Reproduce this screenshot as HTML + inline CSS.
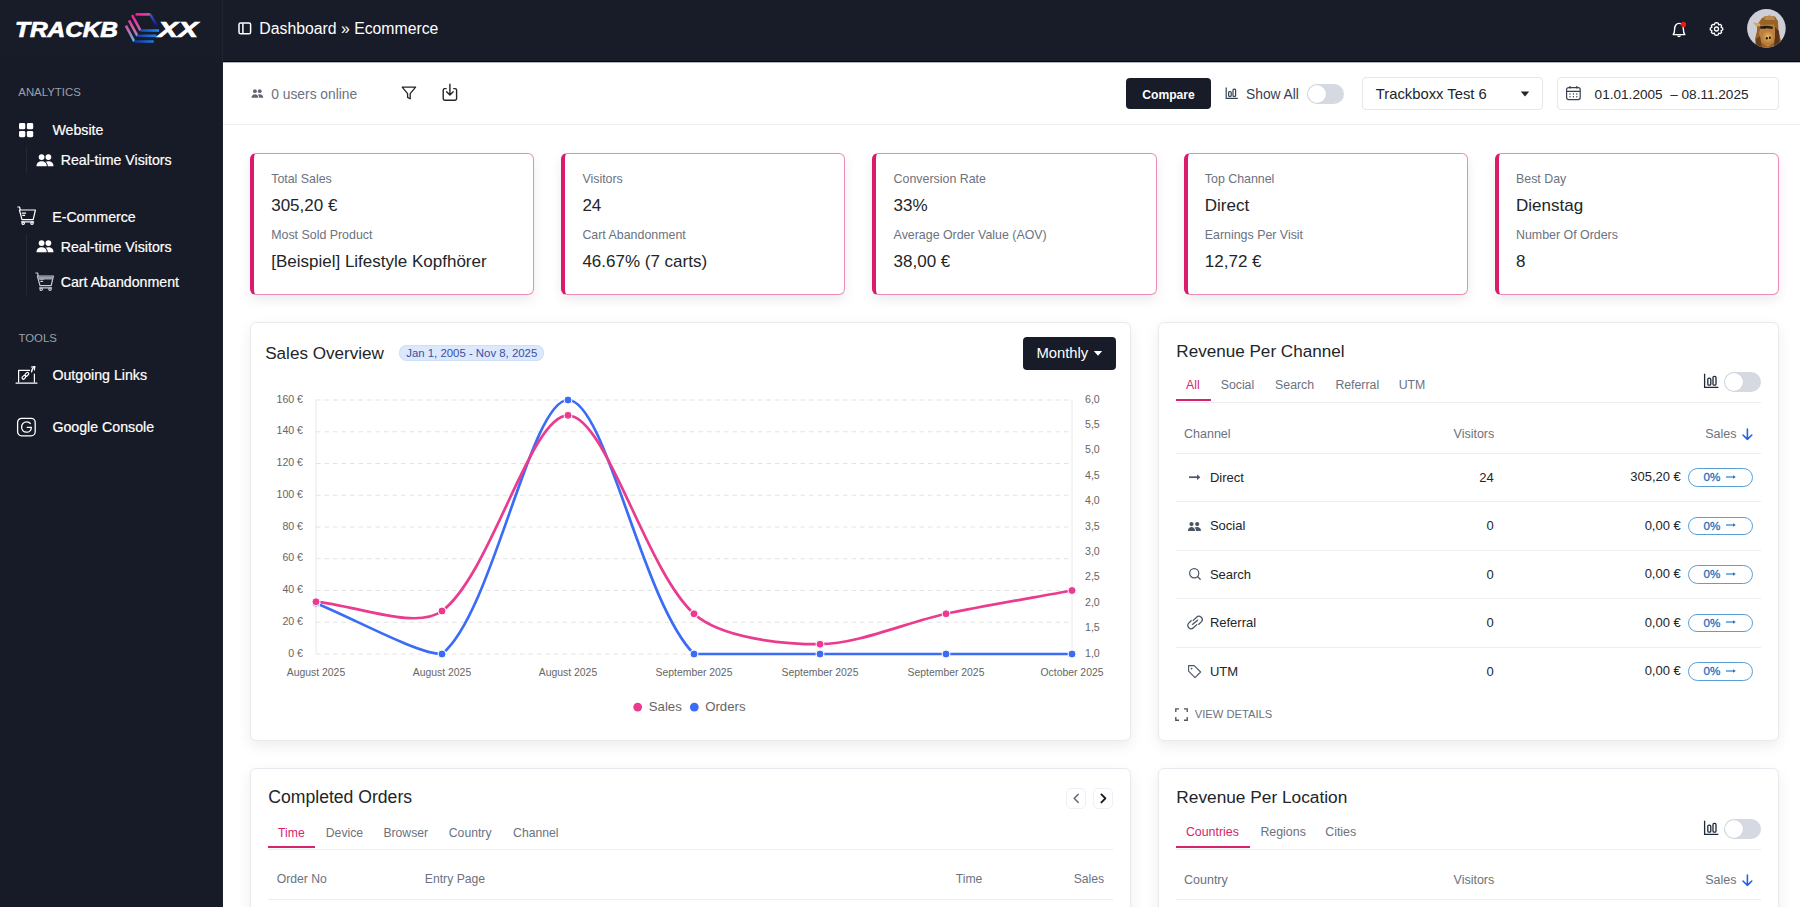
<!DOCTYPE html>
<html><head><meta charset="utf-8">
<style>
*{box-sizing:border-box;margin:0;padding:0}
svg text{font-family:"Liberation Sans",sans-serif}
html,body{width:1800px;height:907px;overflow:hidden;background:#fff;font-family:"Liberation Sans",sans-serif}
.t{position:absolute;white-space:nowrap;line-height:1}
.a{position:absolute}
#hdr{position:absolute;left:0;top:0;width:1800px;height:62px;background:#181c29}
#side{position:absolute;left:0;top:62px;width:223px;height:845px;background:#171b27}
.sw{color:#fff;font-size:14.2px;-webkit-text-stroke:.2px #fff}
.sec{color:#9ba1ad;font-size:11.4px}
.guide{position:absolute;left:26px;width:1px;background:#232838}
.kpi{position:absolute;top:153px;height:142px;width:284.6px;background:#fff;border:1px solid #eb8cb8;border-left:4px solid #da1b6b;border-radius:6px;box-shadow:0 5px 12px rgba(0,0,0,.08)}
.kl{color:#6b7280;font-size:12.4px}
.kv{color:#212529;font-size:17px}
.card{position:absolute;background:#fff;border:1px solid #e8eaef;border-radius:6px;box-shadow:0 5px 14px rgba(0,0,0,.075)}
.ct{color:#212529;font-size:17.1px}
.tab{color:#6b7280;font-size:12.3px}
.tab.on{color:#d6246e}
.th{color:#6b7280;font-size:12.5px}
.td{color:#212529;font-size:13px}
.hl{position:absolute;height:1px;background:#eceef2}
.badge{position:absolute;left:1688px;width:65px;height:18.5px;border:1px solid #5a9fd8;border-radius:10px;color:#1a72c2;font-size:11.6px;text-align:center;line-height:16.5px;-webkit-text-stroke:.3px #1a72c2}
.tog{position:absolute;width:37px;height:20px;border-radius:10px;background:#d5d9e2}
.tog::after{content:"";position:absolute;left:1px;top:1px;width:18px;height:18px;border-radius:50%;background:#fff;box-shadow:0 0 0 .5px #c9ced8}
</style></head><body>

<!-- HEADER -->
<div id="hdr"></div>
<div class="a" style="left:223px;top:61px;width:1577px;height:1px;background:#030713"></div>
<div class="a" style="left:223px;top:62px;width:1577px;height:1px;background:rgba(40,44,60,.35)"></div>
<div class="a" style="left:0;top:61.5px;width:222px;height:1px;background:#1e2333"></div>
<div class="a" style="left:222px;top:0;width:1px;height:907px;background:#1e2332"></div>
<svg class="a" style="left:0;top:0" width="222" height="60" viewBox="0 0 222 60">
 <defs>
  <linearGradient id="gp" gradientUnits="userSpaceOnUse" x1="0" y1="15" x2="0" y2="41"><stop offset="0" stop-color="#ff1493"/><stop offset=".6" stop-color="#c070b0"/><stop offset="1" stop-color="#40c0f0"/></linearGradient>
  <linearGradient id="gb" gradientUnits="userSpaceOnUse" x1="134" y1="0" x2="159" y2="0"><stop offset="0" stop-color="#1a2a90"/><stop offset="1" stop-color="#1a90ff"/></linearGradient>
  <linearGradient id="gt" gradientUnits="userSpaceOnUse" x1="135" y1="0" x2="151" y2="0"><stop offset="0" stop-color="#ff1493"/><stop offset="1" stop-color="#d05a9a"/></linearGradient>
  <linearGradient id="gr" gradientUnits="userSpaceOnUse" x1="0" y1="14" x2="0" y2="26"><stop offset="0" stop-color="#3560b0"/><stop offset="1" stop-color="#10109a"/></linearGradient>
 </defs>
 <text x="15" y="37.2" font-family="Liberation Sans" font-weight="bold" font-style="italic" font-size="21.5" fill="#fff" stroke="#fff" stroke-width="0.7" textLength="103" lengthAdjust="spacingAndGlyphs">TRACKB</text>
 <text x="158" y="37.2" font-family="Liberation Sans" font-weight="bold" font-style="italic" font-size="21.5" fill="#fff" stroke="#fff" stroke-width="0.7" textLength="40" lengthAdjust="spacingAndGlyphs">XX</text>
 <g stroke-width="2.6" stroke-linecap="butt" fill="none">
  <path d="M135.6 14.4 H150.2" stroke="url(#gt)"/>
  <path d="M150.2 14.4 L157.2 26.1" stroke="url(#gr)"/>
  <path d="M132.1 15.1 L140.5 30.5" stroke="url(#gp)"/>
  <path d="M140.5 30.5 H159" stroke="url(#gb)"/>
  <path d="M129 20.3 L137.4 35.8" stroke="url(#gp)"/>
  <path d="M137.4 35.8 H156.4" stroke="url(#gb)"/>
  <path d="M125.9 25.6 L134.3 41.5" stroke="url(#gp)"/>
  <path d="M134.3 41.5 H153.7" stroke="url(#gb)"/>
 </g>
</svg>
<svg class="a" style="left:237.5px;top:21.5px" width="14" height="13" viewBox="0 0 14 13"><rect x="1" y="1" width="11.6" height="10.8" rx="1.6" fill="none" stroke="#fff" stroke-width="1.5"/><path d="M4.9 1.3V11.6" stroke="#fff" stroke-width="1.5"/></svg>
<div class="t" style="left:259.3px;top:20.8px;color:#fff;font-size:15.8px">Dashboard » Ecommerce</div>
<svg class="a" style="left:1670px;top:20px" width="20" height="18" viewBox="0 0 20 18"><path d="M3.2 14.6 C4.6 13.2 4.6 11.6 4.6 9.2 C4.6 5.6 6.4 3.4 9 3.4 C11.6 3.4 13.4 5.6 13.4 9.2 C13.4 11.6 13.4 13.2 14.8 14.6 Z" fill="none" stroke="#fff" stroke-width="1.4" stroke-linejoin="round"/><path d="M7.6 15.6 A1.5 1.5 0 0 0 10.4 15.6" fill="none" stroke="#fff" stroke-width="1.3"/><circle cx="13.4" cy="4.4" r="2.7" fill="#e0201e"/></svg>
<svg class="a" style="left:1708px;top:21px" width="17" height="16" viewBox="0 0 17 16"><path d="M8.5 1.6 L10.2 2.2 L10.6 3.9 L12.3 3.4 L13.6 4.6 L13.1 6.3 L14.7 7 L14.7 9 L13.1 9.7 L13.6 11.4 L12.3 12.6 L10.6 12.1 L10.2 13.8 L8.5 14.4 L6.8 13.8 L6.4 12.1 L4.7 12.6 L3.4 11.4 L3.9 9.7 L2.3 9 L2.3 7 L3.9 6.3 L3.4 4.6 L4.7 3.4 L6.4 3.9 L6.8 2.2 Z" fill="none" stroke="#fff" stroke-width="1.3" stroke-linejoin="round"/><circle cx="8.5" cy="8" r="2" fill="none" stroke="#fff" stroke-width="1.3"/></svg>
<svg class="a" style="left:1747px;top:8.5px" width="39" height="39" viewBox="0 0 39 39">
 <defs><clipPath id="av"><circle cx="19.4" cy="19.4" r="19.3"/></clipPath>
 <filter id="bl" x="-20%" y="-20%" width="140%" height="140%"><feGaussianBlur stdDeviation="0.7"/></filter>
 <radialGradient id="snout" cx=".5" cy=".45" r=".55"><stop offset="0" stop-color="#e8b868"/><stop offset="1" stop-color="#b57a38"/></radialGradient></defs>
 <g clip-path="url(#av)">
  <rect width="39" height="39" fill="#cfced6"/>
  <g filter="url(#bl)">
   <path d="M10 16 L15 9 L22 6.5 L28 7.5 L31 12 L31.5 22 L34 32 L35 39 L9 39 L8 30 L10 22 Z" fill="#9a6428"/>
   <path d="M6 13.2 L13 14.6 L13.5 17 L9 17.5 Z" fill="#d9a85a"/>
   <path d="M14 16 L27 15.5 L29 22 L27 33 L21 38 L14 33 L12 24 Z" fill="#b98040"/>
   <path d="M13 17.5 Q19 15.8 26 17.8 L25.5 20 Q19 18.6 13.5 20 Z" fill="#2c1c10"/>
   <ellipse cx="21" cy="28.5" rx="6" ry="6.2" fill="url(#snout)"/>
   <path d="M28 18 L32 22 L33 36 L27 38 L28 28 Z" fill="#5a3414"/>
   <path d="M9 30 L13 27 L15 39 L9 39 Z" fill="#6a4018"/>
   <path d="M17 7 L27 7 L28 11 L18 11 Z" fill="#b88a50"/>
  </g>
  <ellipse cx="19.8" cy="29.3" rx="1" ry="1.2" fill="#1e1208"/><ellipse cx="22.9" cy="28.8" rx="1" ry="1.2" fill="#1e1208"/>
  <ellipse cx="17.5" cy="18.8" rx="1.4" ry="0.9" fill="#101820"/><ellipse cx="22.6" cy="18.6" rx="1.4" ry="0.9" fill="#1a2840"/>
 </g>
</svg>

<!-- SIDEBAR -->
<div id="side"></div>
<div class="a" style="left:222px;top:0;width:1px;height:907px;background:#1e2332"></div>
<div class="t sec" style="left:18.3px;top:87.3px">ANALYTICS</div>
<svg class="a" style="left:18px;top:121.5px" width="17" height="16" viewBox="0 0 17 16"><g fill="#fff"><rect x="1" y="1" width="6.3" height="6.3" rx="1.4"/><rect x="8.9" y="1" width="6.3" height="6.3" rx="1.4"/><rect x="1" y="8.9" width="6.3" height="6.3" rx="1.4"/><rect x="8.9" y="8.9" width="6.3" height="6.3" rx="1.4"/></g></svg>
<div class="t sw" style="left:52.4px;top:122.5px">Website</div>
<div class="guide" style="top:147px;height:26px"></div>
<svg class="a" style="left:35.5px;top:154px" width="18" height="13" viewBox="0 0 18 13"><g fill="#fff"><circle cx="5.6" cy="3.1" r="2.9"/><circle cx="12.4" cy="3.1" r="2.9"/><path d="M0.5 12.3 C0.5 8.6 2.8 7.2 5.6 7.2 C8.4 7.2 10.7 8.6 10.7 12.3 Z"/><path d="M9.5 7.8 C10.3 7.4 11.3 7.2 12.4 7.2 C15.2 7.2 17.5 8.6 17.5 12.3 H11.8 C11.8 10.3 11 8.8 9.5 7.8 Z"/></g></svg>
<div class="t sw" style="left:60.7px;top:152.9px">Real-time Visitors</div>

<svg class="a" style="left:16px;top:205px" width="22" height="21" viewBox="0 0 22 21"><g fill="none" stroke="#fff" stroke-width="1.2" stroke-linejoin="round" stroke-linecap="round"><path d="M1.8 2 H3.6 L4.2 4.6"/><path d="M3.4 5 H19.4 L17.2 14.6 H6 Z"/><path d="M6.2 8.2 H9.6 M6.8 10.4 H8.6"/><circle cx="7.2" cy="18.2" r="1.2"/><circle cx="16" cy="18.2" r="1.2"/><path d="M5.6 16.9 H17.6"/></g></svg>
<div class="t sw" style="left:52.2px;top:209.9px">E-Commerce</div>
<div class="guide" style="top:234px;height:61px"></div>
<svg class="a" style="left:35.5px;top:240px" width="18" height="13" viewBox="0 0 18 13"><g fill="#fff"><circle cx="5.6" cy="3.1" r="2.9"/><circle cx="12.4" cy="3.1" r="2.9"/><path d="M0.5 12.3 C0.5 8.6 2.8 7.2 5.6 7.2 C8.4 7.2 10.7 8.6 10.7 12.3 Z"/><path d="M9.5 7.8 C10.3 7.4 11.3 7.2 12.4 7.2 C15.2 7.2 17.5 8.6 17.5 12.3 H11.8 C11.8 10.3 11 8.8 9.5 7.8 Z"/></g></svg>
<div class="t sw" style="left:60.7px;top:239.7px">Real-time Visitors</div>
<svg class="a" style="left:34px;top:271px" width="22" height="21" viewBox="0 0 22 21"><g fill="none" stroke="#c8cbd2" stroke-width="1.2" stroke-linejoin="round" stroke-linecap="round"><path d="M1.8 2 H3.6 L4.2 4.6"/><path d="M3.4 5 H19.4 L17.2 14.6 H6 Z"/><path d="M6.2 8.2 H9.6 M6.8 10.4 H8.6"/><circle cx="7.2" cy="18.2" r="1.2"/><circle cx="16" cy="18.2" r="1.2"/><path d="M5.6 16.9 H17.6"/></g><path d="M4 5.5 H19 L18.3 8.6 H4.8 Z" fill="#9aa0aa"/></svg>
<div class="t sw" style="left:60.7px;top:274.7px">Cart Abandonment</div>

<div class="t sec" style="left:18.5px;top:332.6px">TOOLS</div>
<svg class="a" style="left:15px;top:365px" width="24" height="20" viewBox="0 0 24 20"><g fill="none" stroke="#fff" stroke-width="1.2" stroke-linecap="round" stroke-linejoin="round"><path d="M3.6 17 V5.4 H14.5"/><path d="M19.4 9 V17"/><path d="M1 18.1 H22"/><path d="M16.4 2 L19.8 1.6 L19.4 5"/><path d="M19.8 1.6 C17.8 3 16.5 5 16.6 7"/><rect x="6.8" y="11" width="4.2" height="2.6" rx="1.3" transform="rotate(-45 8.9 12.3)"/><rect x="9.8" y="8" width="4.2" height="2.6" rx="1.3" transform="rotate(-45 11.9 9.3)"/></g></svg>
<div class="t sw" style="left:52.4px;top:368.2px">Outgoing Links</div>
<svg class="a" style="left:16px;top:417px" width="21" height="20" viewBox="0 0 21 20"><rect x="1.6" y="1.4" width="17.6" height="17.4" rx="4" fill="none" stroke="#fff" stroke-width="1.3"/><path d="M14.6 6.8 C13.8 5.6 12.4 4.9 10.6 4.9 C7.7 4.9 5.6 7.2 5.6 10.1 C5.6 13 7.7 15.2 10.6 15.2 C13.4 15.2 15.3 13.2 15.3 10.4 H10.7" fill="none" stroke="#fff" stroke-width="1.3"/></svg>
<div class="t sw" style="left:52.4px;top:419.6px">Google Console</div>

<!-- TOPBAR -->
<div class="a" style="left:223px;top:124px;width:1577px;height:1px;background:#eceef3"></div>
<svg class="a" style="left:250.5px;top:88.5px" width="13" height="10" viewBox="0 0 15 12"><g fill="#5f6673"><circle cx="4.4" cy="2.6" r="2.3"/><circle cx="10.2" cy="2.6" r="2.3"/><path d="M0.3 10.6 C0.3 7.6 2.2 6.2 4.4 6.2 C6.6 6.2 8.6 7.6 8.6 10.6 Z"/><path d="M7.6 6.8 C8.4 6.4 9.3 6.2 10.2 6.2 C12.5 6.2 14.4 7.6 14.4 10.6 H9.6 C9.6 8.9 9 7.6 7.6 6.8 Z"/></g></svg>
<div class="t" style="left:271.3px;top:87.6px;color:#6b7280;font-size:13.8px">0 users online</div>
<svg class="a" style="left:400px;top:85px" width="18" height="16" viewBox="0 0 18 16"><path d="M2.2 2.2 H15.6 L10.2 8.6 V13.8 L7.6 12.4 V8.6 Z" fill="none" stroke="#212529" stroke-width="1.3" stroke-linejoin="round"/></svg>
<svg class="a" style="left:441px;top:83px" width="18" height="19" viewBox="0 0 18 19"><path d="M5.6 5.6 H3.8 A1.6 1.6 0 0 0 2.2 7.2 V15.6 A1.6 1.6 0 0 0 3.8 17.2 H14 A1.6 1.6 0 0 0 15.6 15.6 V7.2 A1.6 1.6 0 0 0 14 5.6 H12.2" fill="none" stroke="#212529" stroke-width="1.4"/><path d="M8.9 1.2 V12 M5.6 8.8 L8.9 12 L12.2 8.8" fill="none" stroke="#212529" stroke-width="1.4" stroke-linecap="round" stroke-linejoin="round"/></svg>

<div class="a" style="left:1126px;top:78.3px;width:85px;height:30.5px;background:#181c28;border-radius:4px"></div>
<div class="t" style="left:1126px;top:89.2px;width:85px;text-align:center;color:#fff;font-size:12.1px;font-weight:bold">Compare</div>
<svg class="a" style="left:1224px;top:86px" width="16" height="14" viewBox="0 0 16 14"><g fill="none" stroke="#374151" stroke-width="1.2"><path d="M2.2 1.4 V12.4 H13.8"/><rect x="4.6" y="5.6" width="2.6" height="4.8" rx="1"/><rect x="9" y="3.2" width="2.6" height="7.2" rx="1"/></g></svg>
<div class="t" style="left:1246px;top:87.9px;color:#374151;font-size:13.8px">Show All</div>
<div class="tog" style="left:1307px;top:84px"></div>

<div class="a" style="left:1361.5px;top:76.8px;width:181px;height:33.5px;border:1px solid #e4e6eb;border-radius:4px"></div>
<div class="t" style="left:1375.8px;top:87px;color:#212529;font-size:14.8px">Trackboxx Test 6</div>
<svg class="a" style="left:1520px;top:90px" width="10" height="8" viewBox="0 0 10 8"><path d="M0.8 1.5 H9.2 L5 6.4 Z" fill="#212529"/></svg>
<div class="a" style="left:1556.5px;top:76.8px;width:222px;height:33.5px;border:1px solid #e4e6eb;border-radius:4px"></div>
<svg class="a" style="left:1565px;top:84.5px" width="17" height="16" viewBox="0 0 17 16"><g fill="none" stroke="#374151" stroke-width="1.2"><rect x="1.6" y="2.6" width="13.6" height="12" rx="2"/><path d="M1.6 6.4 H15.2 M5 1 V3.6 M11.8 1 V3.6"/></g><g fill="#374151"><circle cx="5" cy="9" r=".7"/><circle cx="8.4" cy="9" r=".7"/><circle cx="11.8" cy="9" r=".7"/><circle cx="5" cy="11.8" r=".7"/><circle cx="8.4" cy="11.8" r=".7"/><circle cx="11.8" cy="11.8" r=".7"/></g></svg>
<div class="t" style="left:1594.6px;top:87.9px;color:#212529;font-size:13.6px">01.01.2005 &nbsp;– 08.11.2025</div>


<!-- KPI -->
<div class="kpi" style="left:250.0px;width:284.2px"></div>
<div class="t kl" style="left:271.2px;top:173.2px">Total Sales</div>
<div class="t kv" style="left:271.2px;top:196.5px">305,20 €</div>
<div class="t kl" style="left:271.2px;top:228.9px">Most Sold Product</div>
<div class="t kv" style="left:271.2px;top:253px">[Beispiel] Lifestyle Kopfhörer</div>
<div class="kpi" style="left:561.2px;width:284.2px"></div>
<div class="t kl" style="left:582.4px;top:173.2px">Visitors</div>
<div class="t kv" style="left:582.4px;top:196.5px">24</div>
<div class="t kl" style="left:582.4px;top:228.9px">Cart Abandonment</div>
<div class="t kv" style="left:582.4px;top:253px">46.67% (7 carts)</div>
<div class="kpi" style="left:872.4px;width:284.2px"></div>
<div class="t kl" style="left:893.6px;top:173.2px">Conversion Rate</div>
<div class="t kv" style="left:893.6px;top:196.5px">33%</div>
<div class="t kl" style="left:893.6px;top:228.9px">Average Order Value (AOV)</div>
<div class="t kv" style="left:893.6px;top:253px">38,00 €</div>
<div class="kpi" style="left:1183.6px;width:284.2px"></div>
<div class="t kl" style="left:1204.8px;top:173.2px">Top Channel</div>
<div class="t kv" style="left:1204.8px;top:196.5px">Direct</div>
<div class="t kl" style="left:1204.8px;top:228.9px">Earnings Per Visit</div>
<div class="t kv" style="left:1204.8px;top:253px">12,72 €</div>
<div class="kpi" style="left:1494.8px;width:284.2px"></div>
<div class="t kl" style="left:1516.0px;top:173.2px">Best Day</div>
<div class="t kv" style="left:1516.0px;top:196.5px">Dienstag</div>
<div class="t kl" style="left:1516.0px;top:228.9px">Number Of Orders</div>
<div class="t kv" style="left:1516.0px;top:253px">8</div>


<!-- SALES OVERVIEW -->
<div class="card" style="left:250px;top:322px;width:880.5px;height:418.5px"></div>
<div class="t ct" style="left:265.2px;top:345.2px">Sales Overview</div>
<div class="a" style="left:398.8px;top:344.7px;width:145px;height:16.5px;border-radius:9px;background:#dce8fb;box-shadow:inset 0 0 0 1px #cfdff8"></div>
<div class="t" style="left:406.2px;top:347.9px;color:#3a4fa6;font-size:11.4px">Jan 1, 2005 - Nov 8, 2025</div>
<div class="a" style="left:1023px;top:336.7px;width:93px;height:33px;background:#181c28;border-radius:4px"></div>
<div class="t" style="left:1036.4px;top:345.6px;color:#fff;font-size:14.8px">Monthly</div>
<svg class="a" style="left:1093px;top:350px" width="10" height="7" viewBox="0 0 10 7"><path d="M0.8 1 H9.2 L5 5.8 Z" fill="#fff"/></svg>
<svg class="a" style="left:250px;top:322px" width="880" height="418" viewBox="250 322 880 418">
<path d="M316 654.00 H1072" stroke="#e3e3e3" stroke-width="1" stroke-dasharray="4.5 4"/>
<path d="M316 622.25 H1072" stroke="#e3e3e3" stroke-width="1" stroke-dasharray="4.5 4"/>
<path d="M316 590.50 H1072" stroke="#e3e3e3" stroke-width="1" stroke-dasharray="4.5 4"/>
<path d="M316 558.75 H1072" stroke="#e3e3e3" stroke-width="1" stroke-dasharray="4.5 4"/>
<path d="M316 527.00 H1072" stroke="#e3e3e3" stroke-width="1" stroke-dasharray="4.5 4"/>
<path d="M316 495.25 H1072" stroke="#e3e3e3" stroke-width="1" stroke-dasharray="4.5 4"/>
<path d="M316 463.50 H1072" stroke="#e3e3e3" stroke-width="1" stroke-dasharray="4.5 4"/>
<path d="M316 431.75 H1072" stroke="#e3e3e3" stroke-width="1" stroke-dasharray="4.5 4"/>
<path d="M316 400.00 H1072" stroke="#e3e3e3" stroke-width="1" stroke-dasharray="4.5 4"/>
<path d="M316 400 V654 M1072 400 V654" stroke="#e8e8e8" stroke-width="1"/>
<text x="303" y="656.50" text-anchor="end" font-size="10.6" fill="#666">0 €</text>
<text x="303" y="624.75" text-anchor="end" font-size="10.6" fill="#666">20 €</text>
<text x="303" y="593.00" text-anchor="end" font-size="10.6" fill="#666">40 €</text>
<text x="303" y="561.25" text-anchor="end" font-size="10.6" fill="#666">60 €</text>
<text x="303" y="529.50" text-anchor="end" font-size="10.6" fill="#666">80 €</text>
<text x="303" y="497.75" text-anchor="end" font-size="10.6" fill="#666">100 €</text>
<text x="303" y="466.00" text-anchor="end" font-size="10.6" fill="#666">120 €</text>
<text x="303" y="434.25" text-anchor="end" font-size="10.6" fill="#666">140 €</text>
<text x="303" y="402.50" text-anchor="end" font-size="10.6" fill="#666">160 €</text>
<text x="1085" y="656.50" font-size="10.6" fill="#666">1,0</text>
<text x="1085" y="631.10" font-size="10.6" fill="#666">1,5</text>
<text x="1085" y="605.70" font-size="10.6" fill="#666">2,0</text>
<text x="1085" y="580.30" font-size="10.6" fill="#666">2,5</text>
<text x="1085" y="554.90" font-size="10.6" fill="#666">3,0</text>
<text x="1085" y="529.50" font-size="10.6" fill="#666">3,5</text>
<text x="1085" y="504.10" font-size="10.6" fill="#666">4,0</text>
<text x="1085" y="478.70" font-size="10.6" fill="#666">4,5</text>
<text x="1085" y="453.30" font-size="10.6" fill="#666">5,0</text>
<text x="1085" y="427.90" font-size="10.6" fill="#666">5,5</text>
<text x="1085" y="402.50" font-size="10.6" fill="#666">6,0</text>
<text x="316" y="675.8" text-anchor="middle" font-size="10.4" fill="#666">August 2025</text>
<text x="442" y="675.8" text-anchor="middle" font-size="10.4" fill="#666">August 2025</text>
<text x="568" y="675.8" text-anchor="middle" font-size="10.4" fill="#666">August 2025</text>
<text x="694" y="675.8" text-anchor="middle" font-size="10.4" fill="#666">September 2025</text>
<text x="820" y="675.8" text-anchor="middle" font-size="10.4" fill="#666">September 2025</text>
<text x="946" y="675.8" text-anchor="middle" font-size="10.4" fill="#666">September 2025</text>
<text x="1072" y="675.8" text-anchor="middle" font-size="10.4" fill="#666">October 2025</text>
<path d="M316.00 603.20 C353.80 618.44 417.51 654.00 442.00 654.00 C493.11 612.79 530.20 400.00 568.00 400.00 C605.80 400.00 641.66 601.24 694.00 654.00 C717.26 654.00 782.20 654.00 820.00 654.00 C857.80 654.00 908.20 654.00 946.00 654.00 C983.80 654.00 1034.20 654.00 1072.00 654.00" fill="none" stroke="#3b6cf6" stroke-width="2.7"/>
<path d="M316.00 601.80 C353.80 604.56 415.40 630.68 442.00 611.00 C491.00 574.73 530.39 414.88 568.00 415.30 C605.99 415.72 645.27 569.53 694.00 613.80 C720.87 638.20 782.20 644.20 820.00 644.20 C857.80 644.20 907.98 621.90 946.00 613.80 C983.58 605.79 1034.20 597.49 1072.00 590.50" fill="none" stroke="#ea3b8f" stroke-width="2.7"/>
<circle cx="316" cy="603.2" r="4" fill="#3b6cf6" stroke="#fff" stroke-width="1"/>
<circle cx="442" cy="654.0" r="4" fill="#3b6cf6" stroke="#fff" stroke-width="1"/>
<circle cx="568" cy="400.0" r="4" fill="#3b6cf6" stroke="#fff" stroke-width="1"/>
<circle cx="694" cy="654.0" r="4" fill="#3b6cf6" stroke="#fff" stroke-width="1"/>
<circle cx="820" cy="654.0" r="4" fill="#3b6cf6" stroke="#fff" stroke-width="1"/>
<circle cx="946" cy="654.0" r="4" fill="#3b6cf6" stroke="#fff" stroke-width="1"/>
<circle cx="1072" cy="654.0" r="4" fill="#3b6cf6" stroke="#fff" stroke-width="1"/>
<circle cx="316" cy="601.8" r="4" fill="#ea3b8f" stroke="#fff" stroke-width="1"/>
<circle cx="442" cy="611.0" r="4" fill="#ea3b8f" stroke="#fff" stroke-width="1"/>
<circle cx="568" cy="415.3" r="4" fill="#ea3b8f" stroke="#fff" stroke-width="1"/>
<circle cx="694" cy="613.8" r="4" fill="#ea3b8f" stroke="#fff" stroke-width="1"/>
<circle cx="820" cy="644.2" r="4" fill="#ea3b8f" stroke="#fff" stroke-width="1"/>
<circle cx="946" cy="613.8" r="4" fill="#ea3b8f" stroke="#fff" stroke-width="1"/>
<circle cx="1072" cy="590.5" r="4" fill="#ea3b8f" stroke="#fff" stroke-width="1"/>
<circle cx="637.7" cy="707.1" r="4.4" fill="#ea3b8f"/><text x="648.8" y="711" font-size="13.2" fill="#666">Sales</text>
<circle cx="694.3" cy="707.1" r="4.4" fill="#3b6cf6"/><text x="705.2" y="711" font-size="13.2" fill="#666">Orders</text>
</svg>


<!-- REVENUE PER CHANNEL -->
<div class="card" style="left:1158.3px;top:322px;width:621px;height:418.5px"></div>
<div class="t ct" style="left:1176.3px;top:342.8px">Revenue Per Channel</div>
<div class="t tab on" style="left:1186.1px;top:379.2px">All</div>
<div class="t tab" style="left:1220.7px;top:379.2px">Social</div>
<div class="t tab" style="left:1275.1px;top:379.2px">Search</div>
<div class="t tab" style="left:1335.4px;top:379.2px">Referral</div>
<div class="t tab" style="left:1398.7px;top:379.2px">UTM</div>
<div class="hl" style="left:1176px;top:402px;width:585px"></div>
<div class="a" style="left:1176px;top:399.2px;width:34.5px;height:2px;background:#d6246e"></div>
<svg class="a" style="left:1702.8px;top:373.2px" width="17" height="16" viewBox="0 0 17 16"><g fill="none" stroke="#1f2937" stroke-width="1.3"><path d="M1.6 0.8 V14.4 H15.4"/><rect x="4.8" y="5.2" width="3" height="7" rx="1.2"/><rect x="10" y="3.4" width="3" height="8.8" rx="1.2"/></g></svg>
<div class="tog" style="left:1723.8px;top:372px"></div>
<div class="t th" style="left:1184px;top:427.8px">Channel</div>
<div class="t th" style="left:1394.3px;width:100px;text-align:right;top:427.8px">Visitors</div>
<div class="t th" style="left:1636.5px;width:100px;text-align:right;top:427.8px">Sales</div>
<svg class="a" style="left:1741px;top:427.5px" width="13" height="13" viewBox="0 0 13 13"><path d="M6.4 1 V11.4 M2 7 L6.4 11.4 L10.8 7" fill="none" stroke="#2563eb" stroke-width="1.6" stroke-linecap="round" stroke-linejoin="round"/></svg>
<div class="hl" style="left:1176px;top:453px;width:585px"></div>
<svg class="a" style="left:1187px;top:471px" width="16" height="12" viewBox="0 0 16 12"><path d="M2 6.2 H11" stroke="#4b5563" stroke-width="1.7"/><path d="M10 3.4 L13.4 6.2 L10 9 Z" fill="#4b5563"/></svg>
<div class="t td" style="left:1209.9px;top:470.7px">Direct</div>
<div class="t td" style="left:1393.7px;width:100px;text-align:right;top:470.7px">24</div>
<div class="t td" style="left:1580.8px;width:100px;text-align:right;top:470.1px">305,20 €</div>
<div class="badge" style="top:468.1px">0%<svg width="12" height="8" viewBox="0 0 12 8" style="margin-left:5px;vertical-align:0.5px"><path d="M1 4 H8.5" stroke="#1a72c2" stroke-width="1.1"/><path d="M8 2.3 L10.8 4 L8 5.7 Z" fill="#1a72c2"/></svg></div>
<div class="hl" style="left:1176px;top:501.0px;width:585px"></div>
<svg class="a" style="left:1187px;top:519.5px" width="15" height="12" viewBox="0 0 15 12"><g fill="#4b5563"><circle cx="4.5" cy="4.1" r="2.1"/><circle cx="10.2" cy="4.1" r="2.1"/><path d="M1 10.9 C1 8.3 2.6 7.1 4.5 7.1 C6.4 7.1 8 8.3 8 10.9 Z"/><path d="M7.4 7.6 C8.2 7.3 9.2 7.1 10.2 7.1 C12.1 7.1 14 8.3 14 10.9 H8.9 C8.9 9.4 8.4 8.3 7.4 7.6 Z"/></g></svg>
<div class="t td" style="left:1209.9px;top:519.2px">Social</div>
<div class="t td" style="left:1393.7px;width:100px;text-align:right;top:519.2px">0</div>
<div class="t td" style="left:1580.8px;width:100px;text-align:right;top:518.6px">0,00 €</div>
<div class="badge" style="top:516.6px">0%<svg width="12" height="8" viewBox="0 0 12 8" style="margin-left:5px;vertical-align:0.5px"><path d="M1 4 H8.5" stroke="#1a72c2" stroke-width="1.1"/><path d="M8 2.3 L10.8 4 L8 5.7 Z" fill="#1a72c2"/></svg></div>
<div class="hl" style="left:1176px;top:549.5px;width:585px"></div>
<svg class="a" style="left:1187px;top:567px" width="15" height="14" viewBox="0 0 15 14"><circle cx="7.2" cy="6.2" r="4.6" fill="none" stroke="#4b5563" stroke-width="1.2"/><path d="M10.5 9.5 L13.2 12.2" stroke="#4b5563" stroke-width="1.3" stroke-linecap="round"/></svg>
<div class="t td" style="left:1209.9px;top:567.8px">Search</div>
<div class="t td" style="left:1393.7px;width:100px;text-align:right;top:567.8px">0</div>
<div class="t td" style="left:1580.8px;width:100px;text-align:right;top:567.2px">0,00 €</div>
<div class="badge" style="top:565.2px">0%<svg width="12" height="8" viewBox="0 0 12 8" style="margin-left:5px;vertical-align:0.5px"><path d="M1 4 H8.5" stroke="#1a72c2" stroke-width="1.1"/><path d="M8 2.3 L10.8 4 L8 5.7 Z" fill="#1a72c2"/></svg></div>
<div class="hl" style="left:1176px;top:598.1px;width:585px"></div>
<svg class="a" style="left:1185px;top:615px" width="20" height="15" viewBox="0 0 20 15"><g fill="none" stroke="#4b5563" stroke-width="1.3" stroke-linecap="round"><path d="M8.2 5.4 L11.6 2.2 C12.8 1.1 14.9 1.1 16.2 2.3 C17.5 3.6 17.6 5.6 16.3 6.9 L13.8 9.3"/><path d="M11.8 9.6 L8.4 12.8 C7.2 13.9 5.1 13.9 3.8 12.7 C2.5 11.4 2.4 9.4 3.7 8.1 L6.2 5.7"/><path d="M7.4 9.4 L12.6 5.2"/></g></svg>
<div class="t td" style="left:1209.9px;top:616.3px">Referral</div>
<div class="t td" style="left:1393.7px;width:100px;text-align:right;top:616.3px">0</div>
<div class="t td" style="left:1580.8px;width:100px;text-align:right;top:615.7px">0,00 €</div>
<div class="badge" style="top:613.7px">0%<svg width="12" height="8" viewBox="0 0 12 8" style="margin-left:5px;vertical-align:0.5px"><path d="M1 4 H8.5" stroke="#1a72c2" stroke-width="1.1"/><path d="M8 2.3 L10.8 4 L8 5.7 Z" fill="#1a72c2"/></svg></div>
<div class="hl" style="left:1176px;top:646.6px;width:585px"></div>
<svg class="a" style="left:1187px;top:663.5px" width="15" height="15" viewBox="0 0 15 15"><path d="M1.6 1.6 H7.2 L13.6 8 L8 13.6 L1.6 7.2 Z" fill="none" stroke="#4b5563" stroke-width="1.1" stroke-linejoin="round"/><circle cx="4.6" cy="4.6" r="0.9" fill="#4b5563"/></svg>
<div class="t td" style="left:1209.9px;top:664.8px">UTM</div>
<div class="t td" style="left:1393.7px;width:100px;text-align:right;top:664.8px">0</div>
<div class="t td" style="left:1580.8px;width:100px;text-align:right;top:664.2px">0,00 €</div>
<div class="badge" style="top:662.2px">0%<svg width="12" height="8" viewBox="0 0 12 8" style="margin-left:5px;vertical-align:0.5px"><path d="M1 4 H8.5" stroke="#1a72c2" stroke-width="1.1"/><path d="M8 2.3 L10.8 4 L8 5.7 Z" fill="#1a72c2"/></svg></div>
<svg class="a" style="left:1174px;top:707px" width="15" height="15" viewBox="0 0 15 15"><g fill="none" stroke="#4b5563" stroke-width="1.35"><path d="M1.8 5 V1.8 H5 M10 1.8 H13.2 V5 M13.2 10 V13.2 H10 M5 13.2 H1.8 V10"/></g></svg>
<div class="t" style="left:1194.8px;top:708.8px;color:#6b7280;font-size:11.2px">VIEW DETAILS</div>


<!-- COMPLETED ORDERS -->
<div class="card" style="left:250px;top:768.3px;width:880.5px;height:200px"></div>
<div class="t ct" style="left:268.3px;top:788.7px;font-size:17.6px">Completed Orders</div>
<div class="a" style="left:1065.5px;top:788.4px;width:20.5px;height:20.5px;border:1px solid #eef0f3;border-radius:5px"></div>
<div class="a" style="left:1092.5px;top:788.4px;width:20.5px;height:20.5px;border:1px solid #eef0f3;border-radius:5px"></div>
<svg class="a" style="left:1065.5px;top:788.4px" width="21" height="21" viewBox="0 0 21 21"><path d="M12.2 6.4 L8.2 10.4 L12.2 14.4" fill="none" stroke="#6b7280" stroke-width="1.5" stroke-linecap="round" stroke-linejoin="round"/></svg>
<svg class="a" style="left:1092.5px;top:788.4px" width="21" height="21" viewBox="0 0 21 21"><path d="M8.4 6.4 L12.4 10.4 L8.4 14.4" fill="none" stroke="#111827" stroke-width="1.9" stroke-linecap="round" stroke-linejoin="round"/></svg>
<div class="t tab on" style="left:278.1px;top:827.0px;font-size:12.2px">Time</div>
<div class="t tab" style="left:325.8px;top:827.0px;font-size:12.2px">Device</div>
<div class="t tab" style="left:383.4px;top:827.0px;font-size:12.2px">Browser</div>
<div class="t tab" style="left:448.8px;top:827.0px;font-size:12.2px">Country</div>
<div class="t tab" style="left:513.1px;top:827.0px;font-size:12.2px">Channel</div>
<div class="hl" style="left:268px;top:849px;width:845px"></div>
<div class="a" style="left:268px;top:845.8px;width:47px;height:2px;background:#d6246e"></div>
<div class="t th" style="left:276.7px;top:872.6px;font-size:12.2px">Order No</div>
<div class="t th" style="left:424.8px;top:872.6px;font-size:12.2px">Entry Page</div>
<div class="t th" style="left:955.7px;top:872.6px;font-size:12.2px">Time</div>
<div class="t th" style="left:1004.2px;width:100px;text-align:right;top:872.6px;font-size:12.2px">Sales</div>
<div class="hl" style="left:268px;top:899px;width:845px"></div>

<!-- REVENUE PER LOCATION -->
<div class="card" style="left:1158.3px;top:768.3px;width:621px;height:200px"></div>
<div class="t ct" style="left:1176.3px;top:789.1px;font-size:17.3px">Revenue Per Location</div>
<div class="t tab on" style="left:1185.9px;top:825.6px;font-size:12.4px">Countries</div>
<div class="t tab" style="left:1260.4px;top:825.6px;font-size:12.4px">Regions</div>
<div class="t tab" style="left:1325.2px;top:825.6px;font-size:12.4px">Cities</div>
<div class="hl" style="left:1176px;top:849px;width:585px"></div>
<div class="a" style="left:1176px;top:845.6px;width:74px;height:2px;background:#d6246e"></div>
<svg class="a" style="left:1702.8px;top:819.5px" width="17" height="16" viewBox="0 0 17 16"><g fill="none" stroke="#1f2937" stroke-width="1.3"><path d="M1.6 0.8 V14.4 H15.4"/><rect x="4.8" y="5.2" width="3" height="7" rx="1.2"/><rect x="10" y="3.4" width="3" height="8.8" rx="1.2"/></g></svg>
<div class="tog" style="left:1723.8px;top:818.5px"></div>
<div class="t th" style="left:1184px;top:874px">Country</div>
<div class="t th" style="left:1394.3px;width:100px;text-align:right;top:874px">Visitors</div>
<div class="t th" style="left:1636.5px;width:100px;text-align:right;top:874px">Sales</div>
<svg class="a" style="left:1741px;top:873.8px" width="13" height="13" viewBox="0 0 13 13"><path d="M6.4 1 V11.4 M2 7 L6.4 11.4 L10.8 7" fill="none" stroke="#2563eb" stroke-width="1.6" stroke-linecap="round" stroke-linejoin="round"/></svg>
<div class="hl" style="left:1176px;top:899px;width:585px"></div>

</body></html>
